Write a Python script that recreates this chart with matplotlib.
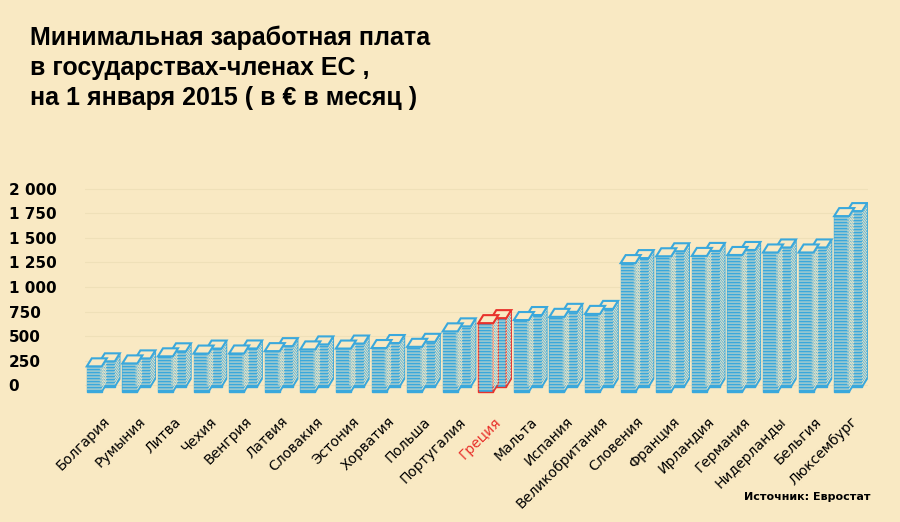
import matplotlib.pyplot as plt
from matplotlib.patches import Polygon
import numpy as np

countries = ["Болгария", "Румыния", "Литва", "Чехия", "Венгрия", "Латвия", "Словакия",
             "Эстония", "Хорватия", "Польша", "Португалия", "Греция", "Мальта", "Испания",
             "Великобритания", "Словения", "Франция", "Ирландия", "Германия", "Нидерланды",
             "Бельгия", "Люксембург"]
wages = [184, 218, 300, 332, 333, 360, 380, 390, 396, 410, 589, 684, 720, 757,
         791, 1379, 1458, 1462, 1473, 1502, 1502, 1923]
yticks = [0, 250, 500, 750, 1000, 1250, 1500, 1750, 2000]

bg = "#f9e9c3"
blue = "#3aa8dc"
red = "#e8322c"

fig = plt.figure(figsize=(9, 5.22), dpi=100, facecolor=bg)
ax = fig.add_axes([85/900, (522-395)/522, 783/900, 216/522])
ax.set_facecolor(bg)
ax.set_xlim(-0.5, len(wages)-0.5)
ax.set_ylim(-100, 2100)

px = 1/35.6   # x units per pixel
py = 2200/216  # y units per pixel
a, b, c = 15*px, 5*px, 8*py

def pile(x0, y0, h, col):
    ys = np.arange(y0, y0+h, 3*py)
    ax.add_patch(Polygon([(x0, y0), (x0+a, y0), (x0+a, y0+h), (x0, y0+h)],
                         closed=True, fc=blue, ec=col, lw=1, zorder=3))
    ax.add_patch(Polygon([(x0+a, y0), (x0+a+b, y0+c), (x0+a+b, y0+h+c), (x0+a, y0+h)],
                         closed=True, fc=blue, ec=col, lw=1, zorder=3))
    for yy in ys[1:]:
        ax.plot([x0+0.5*px, x0+a, x0+a+b-0.5*px], [yy, yy, yy+c], color=bg, lw=0.6, zorder=4)
    ax.add_patch(Polygon([(x0, y0+h), (x0+a, y0+h), (x0+a+b, y0+h+c), (x0+b, y0+h+c)],
                         closed=True, fc=bg, ec=col, lw=1.5, zorder=5))

for i, v in enumerate(wages):
    col = red if countries[i] == "Греция" else blue
    x = i - 16*px
    h = v*0.88 + 100
    pile(x+13*px, -70+5*py, h, col)
    pile(x, -70, h, col)

ax.set_yticks(yticks)
ax.set_yticklabels([f"{t:,}".replace(",", " ") for t in yticks], fontsize=11, fontweight="bold")
ax.tick_params(axis="y", length=0, pad=55)
for lab in ax.get_yticklabels():
    lab.set_horizontalalignment("left")
ax.set_xticks(range(len(countries)))
ax.set_xticklabels(countries, rotation=45, ha="right", fontsize=10, rotation_mode="anchor")
ax.tick_params(axis="x", length=0, pad=14)
for lab in ax.get_xticklabels():
    if lab.get_text() == "Греция":
        lab.set_color(red)
ax.grid(axis="y", color="#efe0b8", lw=0.8, zorder=0)
for s in ax.spines.values():
    s.set_visible(False)

fig.text(30/900, 1-26/522, "Минимальная заработная плата\nв государствах-членах ЕС ,\nна 1 января 2015 ( в € в месяц )",
         fontsize=18, fontweight="bold", va="top", ha="left", linespacing=1.3, family="Liberation Sans")
fig.text(870/900, 1-497/522, "Источник: Евростат", fontsize=8, fontweight="bold", ha="right", va="center")

fig.savefig("out.png", dpi=100, facecolor=bg)
